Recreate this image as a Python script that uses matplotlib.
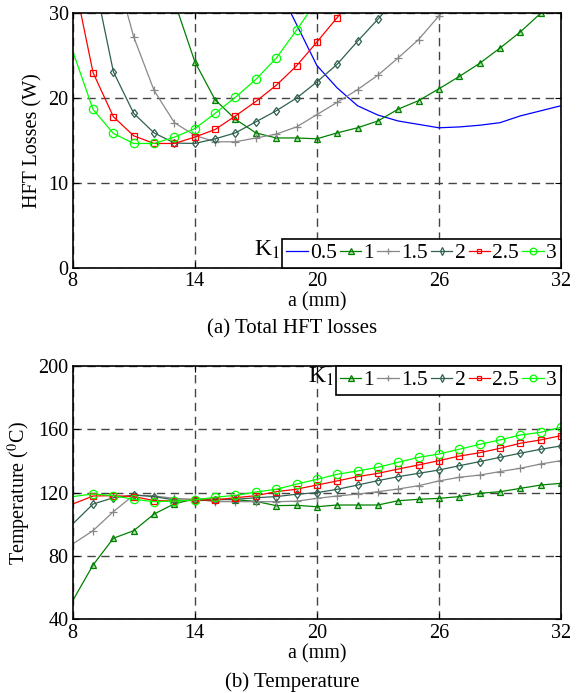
import numpy as np
import matplotlib
matplotlib.use('Agg')
import matplotlib.pyplot as plt

nan = np.nan
a = np.arange(8, 33)

# (a) total HFT losses (W)
loss_05 = [nan, nan, nan, nan, nan, nan, nan, nan, nan, nan, 33.5, 28.7, 23.85, 21.2, 19.1,
           18.0, 17.3, 16.9, 16.5, 16.6, 16.8, 17.1, 17.9, 18.5, 19.1]
loss_1 = [nan, nan, nan, nan, nan, 31.4, 24.3, 19.8, 17.5, 15.9, 15.3, 15.3, 15.2, 15.9, 16.5,
          17.3, 18.7, 19.7, 21.1, 22.55, 24.1, 25.9, 27.8, 30.0, 32.2]
loss_15 = [nan, nan, 36.0, 27.2, 20.9, 17.1, 15.6, 14.85, 14.85, 15.3, 15.75, 16.6, 18.05, 19.5, 21.0,
           22.7, 24.75, 26.9, 29.7, 32.5, nan, nan, nan, nan, nan]
loss_2 = [nan, 34.7, 23.1, 18.2, 15.9, 14.7, 14.65, 15.2, 15.9, 17.2, 18.5, 20.0, 21.9, 24.0, 26.7,
          29.3, 32.0, nan, nan, nan, nan, nan, nan, nan, nan]
loss_25 = [34.7, 23.0, 17.8, 15.55, 14.65, 14.65, 15.4, 16.3, 17.9, 19.6, 21.5, 23.8, 26.6, 29.5, 32.5,
           nan, nan, nan, nan, nan, nan, nan, nan, nan, nan]
loss_3 = [25.55, 18.66, 15.83, 14.65, 14.65, 15.4, 16.4, 18.2, 20.1, 22.2, 24.7, 28.0, 31.5, nan, nan,
          nan, nan, nan, nan, nan, nan, nan, nan, nan, nan]

# (b) temperature (C)
temp_1 = [51.8, 74.3, 91.2, 96.0, 106.5, 113.0, 116.0, 116.0, 115.5, 114.5, 111.8, 112.0, 111.1, 112.2, 112.2,
          112.2, 114.9, 115.8, 116.4, 117.5, 119.6, 120.6, 122.7, 124.8, 125.9]
temp_15 = [87.6, 96.0, 108.0, 118.5, 117.9, 116.4, 115.8, 114.3, 114.3, 114.3, 114.3, 114.6, 116.4, 117.9, 119.1,
           120.6, 122.3, 124.4, 127.4, 129.7, 131.1, 133.3, 135.4, 138.1, 140.2]
temp_2 = [100.2, 112.8, 116.8, 118.5, 117.5, 115.4, 114.9, 115.4, 115.8, 116.8, 117.5, 119.0, 120.0, 122.1, 124.8,
          127.6, 130.1, 132.2, 134.3, 137.0, 139.6, 142.3, 144.9, 147.4, 149.5]
temp_25 = [112.8, 117.9, 118.1, 117.5, 115.0, 114.7, 115.4, 115.4, 116.8, 118.1, 120.6, 122.2, 124.8, 127.4, 130.1,
           132.2, 134.9, 137.5, 140.2, 143.1, 145.2, 148.0, 151.2, 153.3, 156.0]
temp_3 = [117.5, 119.2, 118.1, 115.8, 114.3, 114.7, 115.4, 117.1, 118.3, 120.4, 122.1, 125.4, 128.4, 131.6, 133.7,
          136.0, 139.2, 142.3, 144.4, 147.4, 150.5, 153.3, 156.4, 158.1, 161.3]

plt.rcParams['font.family'] = 'serif'
plt.rcParams['font.serif'] = ['Liberation Serif', 'DejaVu Serif']
plt.rcParams['mathtext.fontset'] = 'stix'
plt.rcParams['font.size'] = 14.5

# label, color, marker, size, face
styles = {
    '0.5': ('#0000ff', None, 0, 'none'),
    '1': ('#008000', '^', 5, (0, 0.6, 0, 0.3)),
    '1.5': ('#888888', '+', 6, 'none'),
    '2': ('#2f6050', 'd', 4.5, 'none'),
    '2.5': ('#ff0000', 's', 4.2, 'none'),
    '3': ('#00ff00', 'o', 6, 'none'),
}

fig = plt.figure(figsize=(5.84, 6.93), dpi=100)
ax1 = fig.add_axes([0.1245, 0.6137, 0.8361, 0.3671])
ax2 = fig.add_axes([0.1245, 0.1063, 0.8361, 0.3656])


def draw(ax, series):
    for lab, y in series:
        c, m, ms, fc = styles[lab]
        ax.plot(a, y, color=c, lw=0.9, marker=m, ms=ms, mfc=fc, mec=c, mew=0.9,
                markevery=slice(1, None), label=lab)
    ax.grid(True, color='#444444', ls=(0, (6, 4)), lw=1)
    ax.set_xlim(8, 32)
    ax.set_xticks([8, 14, 20, 26, 32])
    ax.tick_params(direction='in', top=True, right=True, length=4, pad=3)
    for s in ax.spines.values():
        s.set_linewidth(1.2)
    ax.set_xlabel('a (mm)', labelpad=1)
    leg = ax.legend(ncol=len(series), fancybox=False, edgecolor='black', framealpha=1,
                    handlelength=1.0, handletextpad=0.1, columnspacing=0.15, borderpad=0.2,
                    borderaxespad=0, fontsize=15.5, markerscale=0.8)
    leg.get_frame().set_linewidth(1.2)
    return leg


leg1 = draw(ax1, [('0.5', loss_05), ('1', loss_1), ('1.5', loss_15),
                  ('2', loss_2), ('2.5', loss_25), ('3', loss_3)])
ax1.set_ylim(0, 30)
ax1.set_yticks([0, 10, 20, 30])
ax1.set_ylabel('HFT Losses (W)')
leg1.set_loc('lower right')

leg2 = draw(ax2, [('1', temp_1), ('1.5', temp_15), ('2', temp_2),
                  ('2.5', temp_25), ('3', temp_3)])
ax2.set_ylim(40, 200)
ax2.set_yticks([40, 80, 120, 160, 200])
ax2.set_ylabel('Temperature ($^0$C)')
leg2.set_loc('upper right')

fig.canvas.draw()
for ax, leg in ((ax1, leg1), (ax2, leg2)):
    bb = leg.get_window_extent().transformed(ax.transAxes.inverted())
    ax.text(bb.x0 - 0.004, bb.y1, 'K$_1$', ha='right', va='top', fontsize=17,
            transform=ax.transAxes)

fig.text(0.5, 1 - 329 / 693, '(a) Total HFT losses', ha='center', va='center', fontsize=15)
fig.text(0.5, 1 - 682 / 693, '(b) Temperature', ha='center', va='center', fontsize=15)

fig.savefig('out.png', dpi=100)
